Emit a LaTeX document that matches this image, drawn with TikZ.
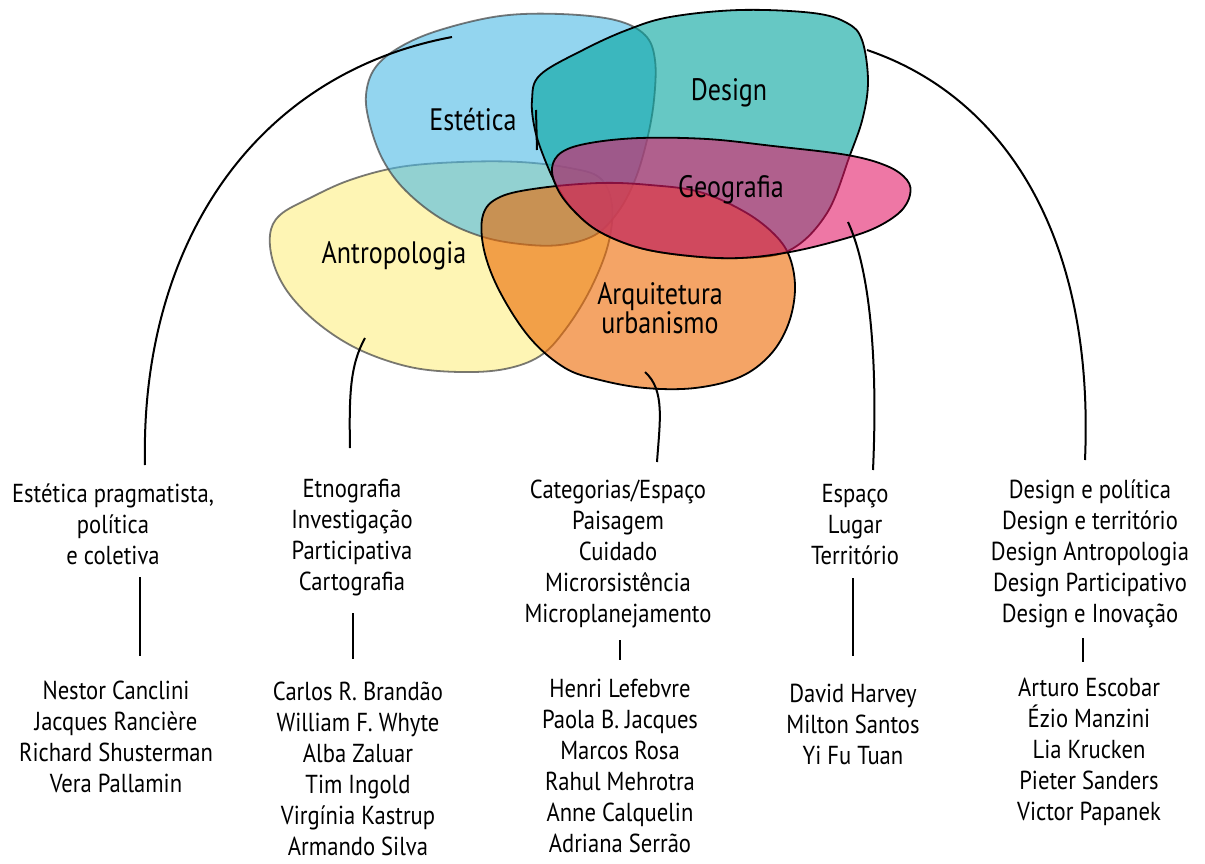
\documentclass[tikz,border=0pt]{standalone}
\usepackage{fontspec}
\setmainfont{PT Sans}[FakeStretch=0.84]
\newfontfamily\listfont{PT Sans}[FakeStretch=0.87]
\begin{document}
\definecolor{cYel}{RGB}{253,238,130}
\definecolor{cBlu}{RGB}{75,185,228}
\definecolor{cDes}{RGB}{0,163,157}
\definecolor{cOra}{RGB}{236,104,0}
\definecolor{cGeo}{RGB}{226,28,105}
\begin{tikzpicture}[x=1pt,y=-1pt,
  blobsoft/.style={fill=#1,fill opacity=0.6,draw=black!70,draw opacity=0.75,line width=1.8pt},
  blobhard/.style={fill=#1,fill opacity=0.6,draw=black,line width=1.8pt},
  conn/.style={draw=black,line width=2pt},
  lbl/.style={font=\fontsize{31}{31}\selectfont,inner sep=0pt,align=center},
  txt/.style={font=\listfont\fontsize{26}{31}\selectfont,inner sep=0pt,align=center}]
\useasboundingbox (0,0) rectangle (1205,863);

% Antropologia
\draw[blobsoft=cYel] plot[smooth cycle,tension=0.6] coordinates {
  (270,235) (280,215) (310,198) (350,180) (400,167) (460,162) (520,162)
  (570,168) (600,178) (612,205) (608,245) (590,290) (565,330) (540,356)
  (505,369) (460,372) (410,367) (360,350) (320,325) (290,295) (274,265)};
% Estetica
\draw[blobsoft=cBlu] plot[smooth cycle,tension=0.6] coordinates {
  (366,95) (375,68) (400,47) (440,30) (500,16) (560,14) (615,20) (645,35)
  (655,60) (654,100) (647,140) (635,180) (618,212) (595,235) (560,245)
  (520,244) (480,236) (440,218) (405,190) (383,160) (370,125)};
% Design
\draw[blobhard=cDes] plot[smooth cycle,tension=0.6] coordinates {
  (532,100) (540,75) (583,50) (627,30) (670,17) (740,10) (813,13) (847,23)
  (862,40) (868,80) (863,117) (850,155) (827,213) (790,250) (740,258)
  (690,256) (640,248) (600,232) (575,212) (558,188) (545,160) (535,130)};
% Arquitetura urbanismo
\draw[blobhard=cOra] plot[smooth cycle,tension=0.6] coordinates {
  (483,215) (500,197) (540,188) (600,183) (650,185) (700,192) (745,212)
  (775,235) (790,258) (795,290) (788,325) (770,355) (740,377) (695,388)
  (645,388) (600,380) (565,368) (530,338) (500,292) (484,250)};
% Geografia
\draw[blobhard=cGeo] plot[smooth cycle,tension=0.6] coordinates {
  (552,168) (562,152) (590,143) (640,138) (707,139) (773,146) (847,155)
  (887,166) (907,180) (910,195) (900,212) (875,228) (840,240) (790,252)
  (740,258) (690,256) (640,248) (600,232) (575,212) (558,190)};

% field labels
\node[lbl] (est) at (473,120) {Estética};
\node[lbl] (des) at (729,93) {Design};
\node[lbl] (geo) at (731,190) {Geografia};
\node[lbl] (ant) at (394,256) {Antropologia};
\node[lbl] (arq) at (660,308) {Arquitetura\\[-2pt]urbanismo};

% small mark beside Estetica
\coordinate (m1) at (536,110);
\coordinate (m2) at (537,150);
\draw[conn] (m1) -- (m2);

% theme lists
\node[txt] (t1) at (113,524) {Estética pragmatista,\\política\\e coletiva};
\node[txt] (t2) at (352,538) {Etnografia\\Investigação\\Participativa\\Cartografia};
\node[txt] (t3) at (618,554) {Categorias/Espaço\\Paisagem\\Cuidado\\Microrsistência\\Microplanejamento};
\node[txt] (t4) at (855,525) {Espaço\\Lugar\\Território};
\node[txt] (t5) at (1090,554) {Design e política\\Design e território\\Design Antropologia\\Design Participativo\\Design e Inovação};

% author lists
\node[txt] (n1) at (116,737) {Nestor Canclini\\Jacques Rancière\\Richard Shusterman\\Vera Pallamin};
\node[txt] (n2) at (358,769) {Carlos R. Brandão\\William F. Whyte\\Alba Zaluar\\Tim Ingold\\Virgínia Kastrup\\Armando Silva};
\node[txt] (n3) at (620,766) {Henri Lefebvre\\Paola B. Jacques\\Marcos Rosa\\Rahul Mehrotra\\Anne Calquelin\\Adriana Serrão};
\node[txt] (n4) at (853,724) {David Harvey\\Milton Santos\\Yi Fu Tuan};
\node[txt] (n5) at (1089,752) {Arturo Escobar\\Ézio Manzini\\Lia Krucken\\Pieter Sanders\\Victor Papanek};

% connectors from the fields down to the theme lists
\coordinate (a1) at (452,37);   \coordinate (b1) at (145,465);
\coordinate (a2) at (365,338);  \coordinate (b2) at (350,448);
\coordinate (a3) at (645,372);  \coordinate (b3) at (657,462);
\coordinate (a4) at (848,222);  \coordinate (b4) at (873,470);
\coordinate (a5) at (867,50);   \coordinate (b5) at (1085,460);
\draw[conn] (a1) .. controls (250,75) and (140,250) .. (b1);
\draw[conn] (a2) .. controls (350,365) and (349,395) .. (b2);
\draw[conn] (a3) .. controls (665,390) and (660,420) .. (b3);
\draw[conn] (a4) .. controls (870,270) and (878,360) .. (b4);
\draw[conn] (a5) .. controls (1000,95) and (1095,230) .. (b5);

% links between theme lists and author lists
\coordinate (u1) at (140,577);  \coordinate (v1) at (140,656);
\coordinate (u2) at (353,613);  \coordinate (v2) at (353,659);
\coordinate (u3) at (620,640);  \coordinate (v3) at (620,660);
\coordinate (u4) at (853,578);  \coordinate (v4) at (853,656);
\coordinate (u5) at (1083,638); \coordinate (v5) at (1083,662);
\foreach \i in {1,...,5} \draw[conn] (u\i) -- (v\i);
\end{tikzpicture}
\end{document}
